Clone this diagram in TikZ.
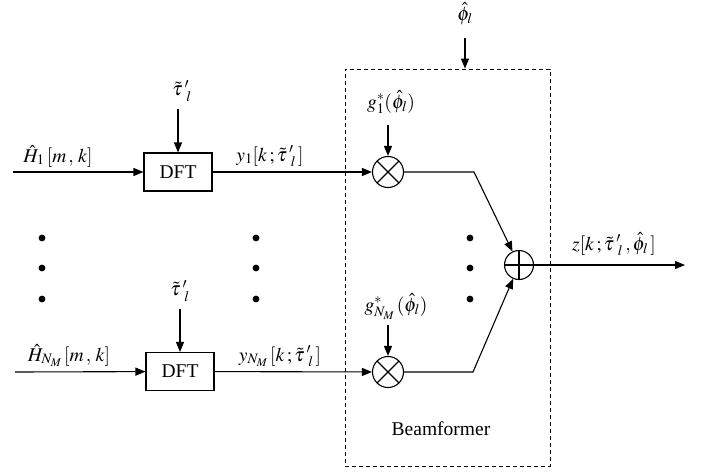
\documentclass[tikz,border=0pt]{standalone}
\usepackage{mathptmx}
\usepackage{fontspec}
\setmainfont{Liberation Serif}
\usetikzlibrary{arrows.meta,positioning}

\begin{document}
\begin{tikzpicture}[x=1pt,y=-1pt,>={Triangle[length=10pt,width=8pt]},line width=1.1pt,font=\fontsize{19.5}{23}\selectfont]
\tikzset{
				dftbox/.style={
					draw,
					minimum width=68pt,
					minimum height=38pt,
					inner sep=0pt
				},
				mult/.style={
					draw,
					circle,
					minimum size=31pt,
					inner sep=0pt,
					path picture={\draw (path picture bounding box.north west) -- (path picture bounding box.south east)
						(path picture bounding box.north east) -- (path picture bounding box.south west);}
				},
				adder/.style={
					draw,
					circle,
					minimum size=29pt,
					inner sep=0pt,
					path picture={\draw (path picture bounding box.north) -- (path picture bounding box.south)
						(path picture bounding box.west) -- (path picture bounding box.east);}
				},
				bfbox/.style={
					draw,
					dash pattern=on 4pt off 3pt,
					line width=0.9pt,
					minimum width=205pt,
					minimum height=397pt,
					inner sep=0pt
				},
				lbl/.style={inner sep=1pt}
			}
			\useasboundingbox (0,0) rectangle (702,472);
			% blocks
			\node[bfbox] (bf) at (447.5,267.5) {};
			\node[dftbox] (dft1) at (178,172) {DFT};
			\node[dftbox] (dftN) at (180,371.5) {DFT};
			\node[mult] (m1) at (388,172) {};
			\node[mult] (mN) at (388,372) {};
			\node[adder] (sum) at (519,265) {};
			
			% free ends
			\coordinate (in1) at (13,172);
			\coordinate (inN) at (15,372);
			\coordinate (t1) at (178,109);
			\coordinate (tN) at (180,309);
			\coordinate (g1) at (388,125);
			\coordinate (gN) at (388,325);
			\coordinate (k1) at (474,172);
			\coordinate (kN) at (473,372);
			\coordinate (out) at (685,265);
			\coordinate (ph) at (465,38);
			
			% labels
			\node[lbl,anchor=base] (h1lbl) at (58,162) {$\hat{H}_{1}\,[m\,,\,k]$};
			\node[lbl,anchor=base] (hNlbl) at (69,361) {$\hat{H}_{N_M}\,[m\,,\,k]$};
			\node[lbl,anchor=south] (tau1) at (182,103) {$\tilde{\tau}\,'_{\,l}$};
			\node[lbl,anchor=south] (tauN) at (180,303) {$\tilde{\tau}\,'_{\,l}$};
			\node[lbl,anchor=base] (y1lbl) at (270,161) {$y_{1}[k\,;\tilde{\tau}\,'_{\,l}\,]$};
			\node[lbl,anchor=base] (yNlbl) at (280,361) {$y_{N_M}\,[k\,;\tilde{\tau}\,'_{\,l}\,]$};
			\node[lbl,anchor=base] (g1lbl) at (391,108) {$g_1^*(\hat{\phi}_l)$};
			\node[lbl,anchor=base] (gNlbl) at (396,311) {$g_{N_M}^*\,(\hat{\phi}_l)$};
			\node[lbl,anchor=base] (phlbl) at (465,20) {$\hat{\phi}_l$};
			\node[lbl,anchor=base] (zlbl) at (614,250) {$z[k\,;\tilde{\tau}\,'_{\,l}\,,\hat{\phi}_l\,]$};
			\node[lbl,anchor=base] (bflbl) at (441,435) {Beamformer};
			
			% dots
			\foreach \x in {42,256,470}
			\foreach \y in {238,268,299}
			\fill (\x,\y) circle (3.4pt);
			
			\draw[->] (in1) -- (dft1);
			\draw[->] (inN) -- (dftN);
			\draw[->] (t1) -- (dft1);
			\draw[->] (tN) -- (dftN);
			\draw[->] (dft1) -- (m1);
			\draw[->] (dftN) -- (mN);
			\draw[->] (g1) -- (m1);
			\draw[->] (gN) -- (mN);
			\draw[->] (m1) -- (k1) -- (sum);
			\draw[->] (mN) -- (kN) -- (sum);
			\draw[->] (sum) -- (out);
			\draw[->] (ph) -- (ph |- bf.north);
\end{tikzpicture}
\end{document}
